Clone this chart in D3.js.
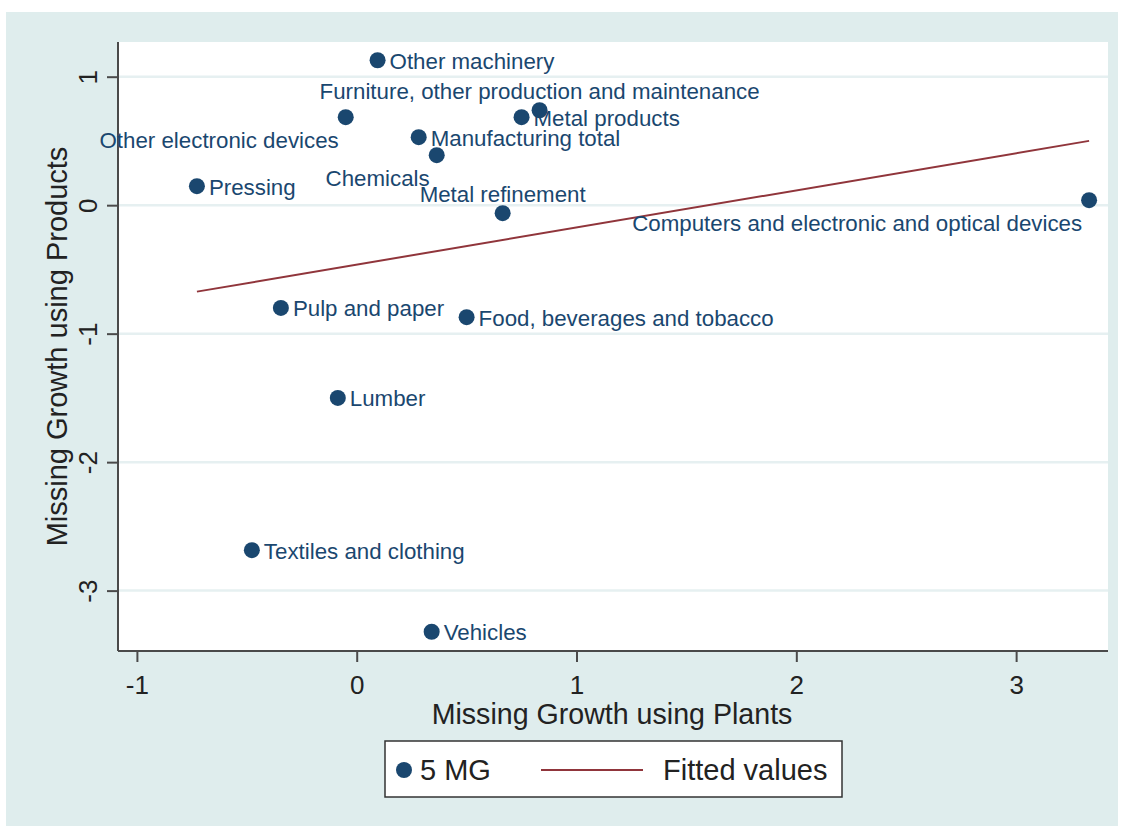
<!DOCTYPE html>
<html>
<head>
<meta charset="utf-8">
<script src="https://cdn.jsdelivr.net/npm/d3@7"></script>
<style>
  html, body { margin: 0; padding: 0; background: #ffffff; }
  svg { display: block; font-family: "Liberation Sans", Arial, sans-serif; }
</style>
</head>
<body>
<svg id="chart" width="1124" height="828"></svg>
<script>
// ---- data ----
const industries = [
  "Other machinery",
  "Furniture, other production and maintenance",
  "Metal products",
  "Other electronic devices",
  "Manufacturing total",
  "Chemicals",
  "Pressing",
  "Metal refinement",
  "Computers and electronic and optical devices",
  "Pulp and paper",
  "Food, beverages and tobacco",
  "Lumber",
  "Textiles and clothing",
  "Vehicles"
];
const missingGrowthPlants = [0.095, 0.832, 0.75, -0.05, 0.282, 0.364, -0.727, 0.664, 3.332, -0.345, 0.50, -0.086, -0.477, 0.341];
const missingGrowthProducts = [1.128, 0.739, 0.685, 0.685, 0.529, 0.389, 0.148, -0.062, 0.039, -0.80, -0.872, -1.50, -2.685, -3.32];
// marker label clock positions (Stata mlabposition)
const labelClock = [3, 12, 3, 7, 3, 7, 3, 12, 7, 3, 3, 3, 3, 3];
const xTicks = [-1, 0, 1, 2, 3];
const yTicks = [1, 0, -1, -2, -3];
const xTitle = "Missing Growth using Plants";
const yTitle = "Missing Growth using Products";
const legendLabels = ["5 MG", "Fitted values"];

// ---- styling ----
const navy = "#1a476f";
const maroon = "#90353b";
const bg = "#dfeded";
const grid = "#e6f0f1";
const axisCol = "#4a4a4a";

const svg = d3.select("#chart");
svg.append("rect").attr("x", 6).attr("y", 12).attr("width", 1112).attr("height", 814).attr("fill", bg);

const plot = {left: 118, right: 1108, top: 42, bottom: 651};
svg.append("rect").attr("x", plot.left).attr("y", plot.top)
  .attr("width", plot.right - plot.left).attr("height", plot.bottom - plot.top).attr("fill", "#ffffff");

const x = d3.scaleLinear().domain([-1.086, 3.418]).range([plot.left, plot.right]);
const y = d3.scaleLinear().domain([-3.47, 1.27]).range([plot.bottom, plot.top]);

// gridlines
svg.append("g").selectAll("line").data(yTicks).join("line")
  .attr("x1", plot.left).attr("x2", plot.right)
  .attr("y1", d => y(d)).attr("y2", d => y(d))
  .attr("stroke", grid).attr("stroke-width", 2.5);

// y axis
const yAxis = svg.append("g").attr("transform", `translate(${plot.left},0)`)
  .call(d3.axisLeft(y).tickValues(yTicks).tickSize(11).tickPadding(0).tickFormat(d3.format("d")));
yAxis.select(".domain").attr("stroke", axisCol).attr("stroke-width", 2)
  .attr("d", `M0,${plot.top}V${plot.bottom}`);
yAxis.selectAll(".tick line").attr("stroke", axisCol).attr("stroke-width", 2);
yAxis.selectAll(".tick text")
  .attr("x", null).attr("dy", null)
  .attr("transform", "translate(-21,0) rotate(-90)")
  .attr("text-anchor", "middle")
  .attr("dy", "0em")
  .attr("fill", "#222").style("font-size", "26px")
  .style("font-family", "Liberation Sans, Arial, sans-serif")
  .text(d => d3.format("d")(d).replace("−", "-"));

// x axis
const xAxis = svg.append("g").attr("transform", `translate(0,${plot.bottom})`)
  .call(d3.axisBottom(x).tickValues(xTicks).tickSize(11).tickPadding(14).tickFormat(d3.format("d")));
xAxis.select(".domain").attr("stroke", axisCol).attr("stroke-width", 2)
  .attr("d", `M${plot.left},0H${plot.right}`);
xAxis.selectAll(".tick line").attr("stroke", axisCol).attr("stroke-width", 2);
xAxis.selectAll(".tick text")
  .attr("fill", "#222").style("font-size", "26px")
  .style("font-family", "Liberation Sans, Arial, sans-serif")
  .text(d => d3.format("d")(d).replace("−", "-"));

// axis titles
svg.append("text").attr("x", (plot.left + plot.right) / 2 - 1).attr("y", 724)
  .attr("text-anchor", "middle").attr("fill", "#222").style("font-size", "28.6px").text(xTitle);
svg.append("text").attr("transform", `translate(67,${(plot.top + plot.bottom) / 2}) rotate(-90)`)
  .attr("text-anchor", "middle").attr("fill", "#222").style("font-size", "29px").text(yTitle);

// fitted values (OLS)
const n = missingGrowthPlants.length;
const mx = d3.mean(missingGrowthPlants), my = d3.mean(missingGrowthProducts);
let sxy = 0, sxx = 0;
for (let i = 0; i < n; i++) {
  sxy += (missingGrowthPlants[i] - mx) * (missingGrowthProducts[i] - my);
  sxx += (missingGrowthPlants[i] - mx) ** 2;
}
const slope = sxy / sxx, intercept = my - slope * mx;
const [xmin, xmax] = d3.extent(missingGrowthPlants);
const fitPts = [xmin, xmax].map(v => [v, intercept + slope * v]);
svg.append("path")
  .attr("d", d3.line().x(d => x(d[0])).y(d => y(d[1]))(fitPts))
  .attr("fill", "none").attr("stroke", maroon).attr("stroke-width", 2);

// points
const pts = industries.map((name, i) => ({name, px: missingGrowthPlants[i], py: missingGrowthProducts[i], pos: labelClock[i]}));
svg.append("g").selectAll("circle").data(pts).join("circle")
  .attr("cx", d => x(d.px)).attr("cy", d => y(d.py)).attr("r", 8).attr("fill", navy);

// marker labels
const lab = svg.append("g").selectAll("text").data(pts).join("text")
  .attr("fill", navy).style("font-size", "22.3px")
  .attr("dominant-baseline", "central")
  .text(d => d.name);
lab.each(function(d) {
  const cx = x(d.px), cy = y(d.py);
  const t = d3.select(this);
  if (d.pos === 3) {
    t.attr("x", cx + 12).attr("y", cy + 1).attr("text-anchor", "start");
  } else if (d.pos === 12) {
    t.attr("x", cx).attr("y", cy - 19).attr("text-anchor", "middle");
  } else if (d.pos === 7) {
    t.attr("x", cx - 7).attr("y", cy + 23).attr("text-anchor", "end");
  }
});

// legend
const lg = svg.append("g");
lg.append("rect").attr("x", 385).attr("y", 741).attr("width", 457).attr("height", 56)
  .attr("fill", "#ffffff").attr("stroke", "#333").attr("stroke-width", 1.5);
lg.append("circle").attr("cx", 404).attr("cy", 770).attr("r", 8).attr("fill", navy);
lg.append("text").attr("x", 420).attr("y", 770).attr("dominant-baseline", "central")
  .attr("fill", "#222").style("font-size", "29px").text(legendLabels[0]);
lg.append("line").attr("x1", 541).attr("x2", 643).attr("y1", 770).attr("y2", 770)
  .attr("stroke", maroon).attr("stroke-width", 2);
lg.append("text").attr("x", 663).attr("y", 770).attr("dominant-baseline", "central")
  .attr("fill", "#222").style("font-size", "29px").text(legendLabels[1]);
</script>
</body>
</html>
